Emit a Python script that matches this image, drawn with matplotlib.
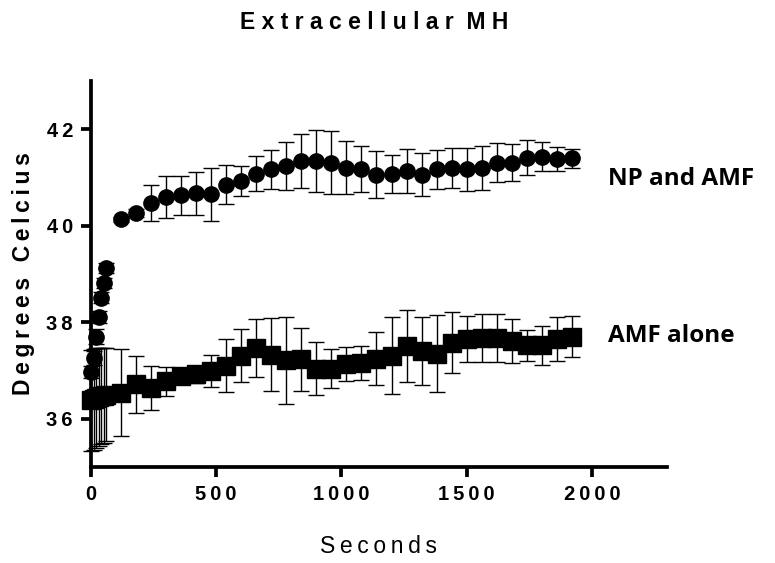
import numpy as np
import matplotlib
matplotlib.use("Agg")
import matplotlib.pyplot as plt

plt.rcParams['font.family'] = ['Liberation Sans', 'DejaVu Sans']

# time points (s)
seconds = [0, 10, 20, 30, 40, 50, 60,
           120, 180, 240, 300, 360, 420, 480, 540, 600, 660, 720, 780,
           840, 900, 960, 1020, 1080, 1140, 1200, 1260, 1320, 1380, 1440,
           1500, 1560, 1620, 1680, 1740, 1800, 1860, 1920]

# NP and AMF
np_amf_mean = [36.97, 37.26, 37.70, 38.11, 38.51, 38.81, 39.13,
               40.13, 40.27, 40.47, 40.60, 40.63, 40.67, 40.65, 40.85, 40.93, 41.08, 41.17, 41.24,
               41.34, 41.34, 41.31, 41.20, 41.17, 41.06, 41.07, 41.13, 41.06, 41.17, 41.20,
               41.17, 41.20, 41.31, 41.31, 41.41, 41.43, 41.38, 41.40]
np_amf_sd = [0.12, 0.15, 0.15, 0.12, 0.12, 0.10, 0.10,
             0.05, 0.08, 0.37, 0.43, 0.40, 0.45, 0.55, 0.40, 0.31, 0.36, 0.40, 0.50,
             0.56, 0.65, 0.66, 0.55, 0.48, 0.49, 0.40, 0.46, 0.44, 0.40, 0.42,
             0.45, 0.45, 0.40, 0.38, 0.36, 0.30, 0.25, 0.20]

# AMF alone
amf_mean = [36.38, 36.40, 36.43, 36.45, 36.47, 36.48, 36.50,
            36.54, 36.71, 36.64, 36.78, 36.88, 36.92, 36.99, 37.10, 37.31, 37.47, 37.33, 37.21,
            37.23, 37.04, 37.04, 37.13, 37.16, 37.24, 37.31, 37.51, 37.40, 37.35, 37.58,
            37.65, 37.68, 37.68, 37.61, 37.52, 37.52, 37.65, 37.70]
amf_sd = [1.05, 1.05, 1.03, 1.02, 1.00, 0.98, 0.97,
          0.90, 0.60, 0.46, 0.30, 0.17, 0.17, 0.33, 0.55, 0.55, 0.60, 0.75, 0.90,
          0.65, 0.55, 0.40, 0.35, 0.35, 0.55, 0.80, 0.75, 0.70, 0.80, 0.63,
          0.47, 0.50, 0.50, 0.45, 0.32, 0.40, 0.46, 0.42]

xticks = [0, 500, 1000, 1500, 2000]
yticks = [36, 38, 40, 42]

def spaced(s, sep="\u2009"):
    return sep.join(list(s))

fig = plt.figure(figsize=(7.75, 5.63), dpi=100)
ax = fig.add_axes([91/775, 1-467/563, (667-91)/775, (467-81)/563])

ax.errorbar(seconds, amf_mean, yerr=amf_sd, fmt='s', color='black', ms=12.5,
            ecolor='black', elinewidth=1, capsize=5.5, capthick=1, clip_on=False, zorder=3)
ax.errorbar(seconds, np_amf_mean, yerr=np_amf_sd, fmt='o', color='black', ms=11,
            ecolor='black', elinewidth=1, capsize=5.5, capthick=1, clip_on=False, zorder=4)

ax.set_xlim(0, 2300)
ax.set_ylim(35, 43)
ax.set_xticks(xticks)
ax.set_xticklabels([spaced(str(t)) for t in xticks], fontweight='bold', fontsize=14.5)
ax.set_yticks(yticks)
ax.set_yticklabels([spaced(str(t)) for t in yticks], fontweight='bold', fontsize=14.5)

for side in ['top', 'right']:
    ax.spines[side].set_visible(False)
for side in ['left', 'bottom']:
    ax.spines[side].set_linewidth(2.7)
ax.tick_params(width=2.7, length=7, pad=6)

ax.set_xlabel(spaced("Seconds"), fontsize=16.5, labelpad=22)
ax.set_ylabel(spaced("Degrees Celcius"), fontsize=16.5, fontweight='bold', labelpad=8)

ax.text(2064, 40.97, "NP and AMF", fontsize=17.5, fontweight='bold', family=['Open Sans', 'DejaVu Sans'],
        va='center', ha='left', clip_on=False)
ax.text(2064, 37.72, "AMF alone", fontsize=17.5, fontweight='bold', family=['Open Sans', 'DejaVu Sans'],
        va='center', ha='left', clip_on=False)

fig.text(374/775, 1-22.5/563, "E x t r a c e l l u l a r  M H",
         fontsize=16.5, fontweight='bold', ha='center', va='center')

fig.savefig("out.png", dpi=100)
